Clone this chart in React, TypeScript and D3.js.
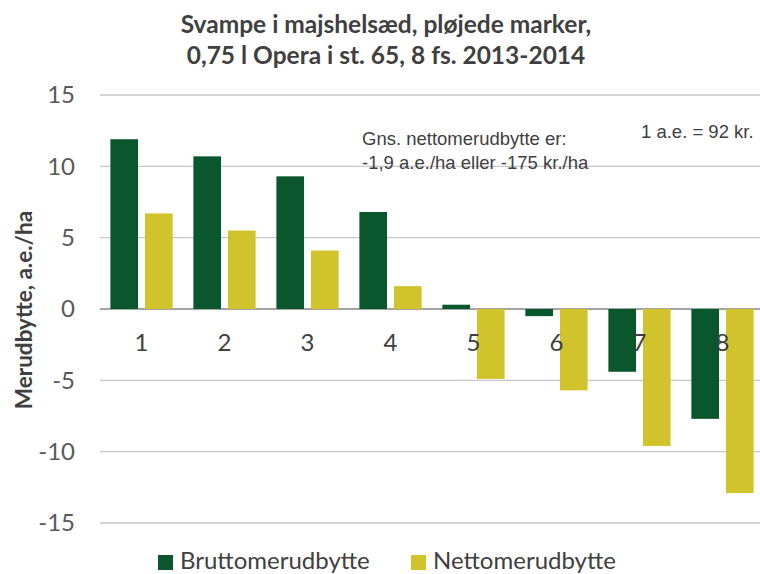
import { useMemo } from 'react';
import { scaleBand, scaleLinear } from 'd3';

const categories = ['1', '2', '3', '4', '5', '6', '7', '8'];
const series = ['Bruttomerudbytte', 'Nettomerudbytte'];
const brutto = [11.9, 10.7, 9.3, 6.8, 0.3, -0.5, -4.4, -7.7];
const netto = [6.7, 5.5, 4.1, 1.6, -4.9, -5.7, -9.6, -12.9];
const yTicks = [15, 10, 5, 0, -5, -10, -15];
const titleLines = ['Svampe i majshelsæd, pløjede marker,', '0,75 l Opera i st. 65, 8 fs. 2013-2014'];
const noteLines = ['Gns. nettomerudbytte er:', '-1,9 a.e./ha eller -175 kr./ha'];
const rateNote = '1 a.e. = 92 kr.';

const colors = ['#0b572d', '#d1c32b'];
const calibri = 'Lato, "Open Sans", sans-serif';
const arial = '"Liberation Sans", Arial, sans-serif';

const App = () => {
  const width = 760;
  const height = 574;
  const left = 100;
  const right = 764;

  const x = useMemo(
    () => scaleBand<string>().domain(categories).range([left, right]).paddingInner(0.25).paddingOuter(0.125),
    []
  );
  const xs = useMemo(
    () => scaleBand<string>().domain(series).range([0, x.bandwidth()]).paddingInner(0.2),
    [x]
  );
  const y = useMemo(() => scaleLinear().domain([-15, 15]).range([523, 95]), []);

  const values = [brutto, netto];

  return (
    <svg
      width={width}
      height={height}
      style={{ position: 'absolute', left: 0, top: 0, background: '#fff' }}
    >
      {titleLines.map((t, i) => (
        <text
          key={t}
          x={386}
          y={33 + i * 31}
          textAnchor="middle"
          fontFamily={calibri}
          fontWeight="bold"
          fontSize={24.5}
          fill="#404040"
        >
          {t}
        </text>
      ))}

      {yTicks.map((t) => (
        <g key={t}>
          <line
            x1={left}
            x2={right}
            y1={y(t)}
            y2={y(t)}
            stroke={t === 0 ? '#868686' : '#c8c8c8'}
            strokeWidth={1.3}
          />
          <text
            x={75}
            y={y(t)}
            dy="0.35em"
            textAnchor="end"
            fontFamily={calibri}
            fontSize={24}
            fill="#595959"
          >
            {t}
          </text>
        </g>
      ))}

      <text
        transform={`translate(32,310) rotate(-90)`}
        textAnchor="middle"
        fontFamily={calibri}
        fontWeight="bold"
        fontSize={22.5}
        fill="#404040"
      >
        Merudbytte, a.e./ha
      </text>

      {series.map((s, si) =>
        categories.map((c, ci) => {
          const v = values[si][ci];
          return (
            <rect
              key={s + c}
              x={(x(c) ?? 0) + (xs(s) ?? 0)}
              y={Math.min(y(v), y(0))}
              width={xs.bandwidth()}
              height={Math.abs(y(v) - y(0))}
              fill={colors[si]}
            />
          );
        })
      )}

      {categories.map((c) => (
        <text
          key={c}
          x={(x(c) ?? 0) + x.bandwidth() / 2}
          y={351}
          textAnchor="middle"
          fontFamily={calibri}
          fontSize={24}
          fill="#404040"
        >
          {c}
        </text>
      ))}

      {noteLines.map((t, i) => (
        <text key={t} x={362} y={145 + i * 24} fontFamily={arial} fontSize={18.5} fill="#404040">
          {t}
        </text>
      ))}
      <text x={641} y={138} fontFamily={arial} fontSize={18.5} fill="#404040">
        {rateNote}
      </text>

      {series.map((s, i) => (
        <g key={s} transform={`translate(${[158, 411][i]},0)`}>
          <rect x={0} y={555} width={15} height={15} fill={colors[i]} />
          <text x={22} y={569} fontFamily={calibri} fontSize={24} fill="#404040">
            {s}
          </text>
        </g>
      ))}
    </svg>
  );
};

export default App;
